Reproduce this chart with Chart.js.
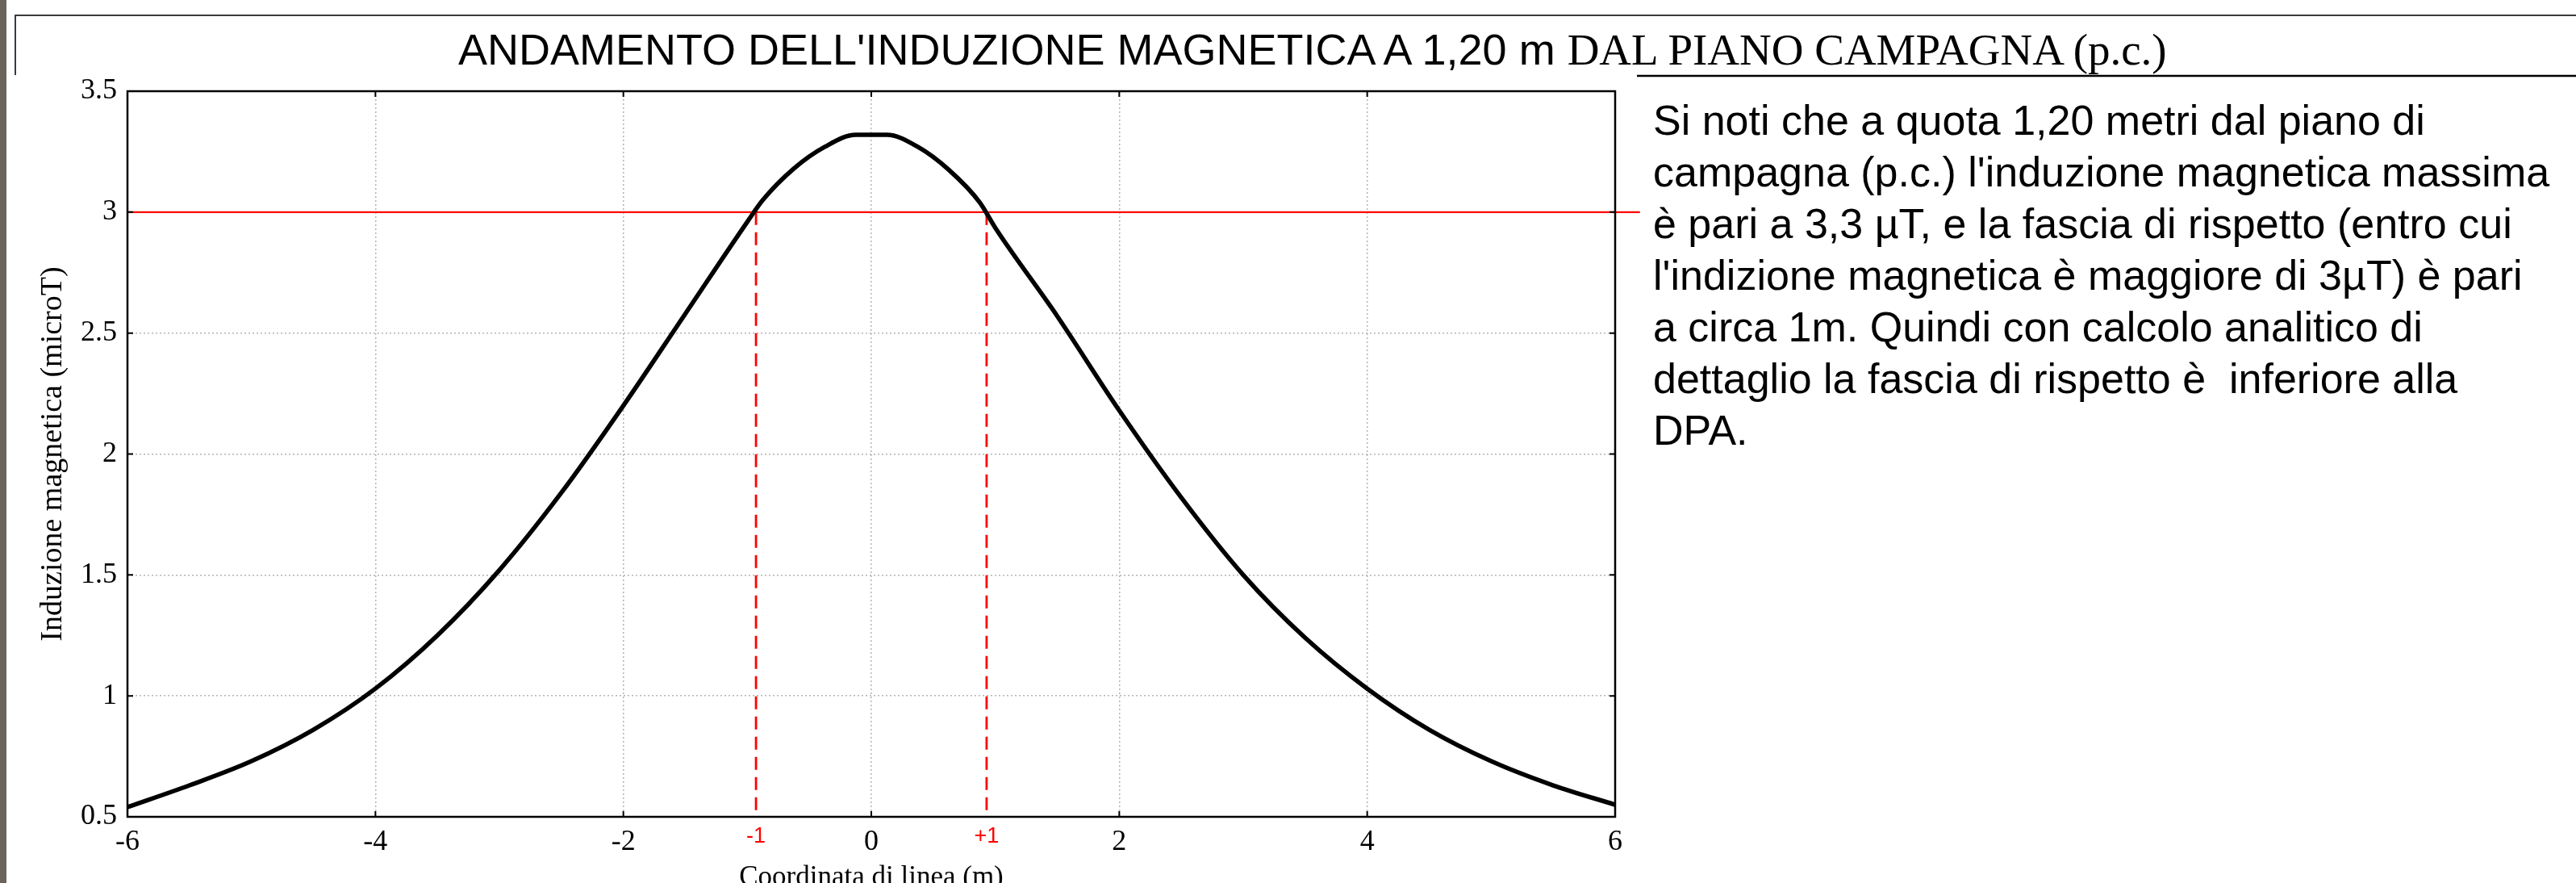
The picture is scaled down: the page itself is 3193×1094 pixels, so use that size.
<!DOCTYPE html>
<html>
<head>
<meta charset="utf-8">
<script src="https://cdn.jsdelivr.net/npm/chart.js@4.4.0/dist/chart.umd.min.js"></script>
<style>
  html, body { margin: 0; padding: 0; background: #fff; overflow: hidden; }
  #wrap { position: relative; width: 3193px; height: 1094px; }
  #chart { position: absolute; left: 0; top: 0; }
  #title { position: absolute; left: 568px; top: 34px; white-space: nowrap; color: #000;
           font: 54px/54px "Liberation Sans", Arial, sans-serif; }
  #title .serif { font-family: "Liberation Serif", "Times New Roman", serif; font-size: 55px; }
  #note { position: absolute; left: 2049px; top: 117px; white-space: nowrap; color: #000;
          font: 52px/64px "Liberation Sans", Arial, sans-serif; }
</style>
</head>
<body>
<div id="wrap">
  <canvas id="chart" width="3193" height="1094"></canvas>
  <div id="title">ANDAMENTO DELL'INDUZIONE MAGNETICA A 1,20 m <span class="serif">DAL PIANO CAMPAGNA (p.c.)</span></div>
  <div id="note">Si noti che a quota 1,20 metri dal piano di<br>campagna (p.c.) l'induzione magnetica massima<br>è pari a 3,3 µT, e la fascia di rispetto (entro cui<br>l'indizione magnetica è maggiore di 3µT) è pari<br>a circa 1m. Quindi con calcolo analitico di<br>dettaglio la fascia di rispetto è&nbsp; inferiore alla<br>DPA.</div>
</div>
<script>
'use strict';
// coordinata di linea (m) and induzione magnetica (microT)
var xCoord = [-6, -5.5, -5, -4.5, -4, -3.5, -3, -2.5, -2, -1.5, -1, -0.875, -0.625, -0.375, -0.125,
              0.125, 0.375, 0.625, 0.875, 1, 1.5, 2, 2.5, 3, 3.5, 4, 4.5, 5, 5.5, 6];
var induction = [0.54, 0.63, 0.73, 0.86, 1.03, 1.25, 1.52, 1.84, 2.20, 2.58, 2.96, 3.05, 3.18, 3.27, 3.32,
                 3.32, 3.27, 3.175, 3.04, 2.935, 2.57, 2.18, 1.82, 1.50, 1.24, 1.03, 0.86, 0.73, 0.63, 0.55];
var threshold = 3;          // limite 3 microT
var thresholdEnd = 6.2;     // la linea rossa sborda un po' oltre l'asse
var bandEdges = [-0.93, 0.93];
var bandLabels = ['-1', '+1'];
var xRange = [-6, 6], xStep = 2;
var yRange = [0.5, 3.5], yStep = 0.5;

var serif = '"Liberation Serif", "Times New Roman", serif';
var sans = '"Liberation Sans", Arial, sans-serif';

var decor = {
  id: 'decor',
  afterDraw: function(chart) {
    var ctx = chart.ctx, a = chart.chartArea, x = chart.scales.x, y = chart.scales.y;
    ctx.save();
    // bordo pagina
    ctx.fillStyle = '#6b645a';
    ctx.fillRect(0, 0, 8, chart.height);
    ctx.strokeStyle = '#3a3a3a';
    ctx.lineWidth = 2;
    ctx.beginPath();
    ctx.moveTo(19, 93); ctx.lineTo(19, 19); ctx.lineTo(chart.width, 19);
    ctx.stroke();
    ctx.strokeStyle = '#000';
    ctx.lineWidth = 2.5;
    ctx.beginPath();
    ctx.moveTo(2029, 94); ctx.lineTo(chart.width, 94);
    ctx.stroke();

    // cornice del grafico + tacche interne
    ctx.lineWidth = 2.5;
    ctx.strokeRect(a.left, a.top, a.right - a.left, a.bottom - a.top);
    ctx.lineWidth = 2;
    ctx.beginPath();
    x.ticks.forEach(function(t) {
      var px = x.getPixelForValue(t.value);
      ctx.moveTo(px, a.bottom); ctx.lineTo(px, a.bottom - 7);
      ctx.moveTo(px, a.top); ctx.lineTo(px, a.top + 7);
    });
    y.ticks.forEach(function(t) {
      var py = y.getPixelForValue(t.value);
      ctx.moveTo(a.left, py); ctx.lineTo(a.left + 7, py);
      ctx.moveTo(a.right, py); ctx.lineTo(a.right - 7, py);
    });
    ctx.stroke();

    // etichette rosse della fascia
    ctx.fillStyle = '#ff0000';
    ctx.font = '27px ' + sans;
    ctx.textAlign = 'center';
    ctx.textBaseline = 'middle';
    bandEdges.forEach(function(v, i) {
      ctx.fillText(bandLabels[i], x.getPixelForValue(v), a.bottom + 25);
    });

    // titoli assi
    ctx.fillStyle = '#000';
    ctx.font = '35px ' + serif;
    ctx.textBaseline = 'alphabetic';
    ctx.fillText('Coordinata di linea (m)', (a.left + a.right) / 2, a.bottom + 85);
    ctx.font = '38px ' + serif;
    ctx.translate(76, (a.top + a.bottom) / 2);
    ctx.rotate(-Math.PI / 2);
    ctx.fillText('Induzione magnetica (microT)', 0, 0);
    ctx.restore();
  }
};

var points = xCoord.map(function(v, i) { return {x: v, y: induction[i]}; });
var datasets = [{
  data: points,
  borderColor: '#000',
  borderWidth: 5.5,
  pointRadius: 0,
  showLine: true,
  cubicInterpolationMode: 'monotone',
  order: 0
}, {
  data: [{x: xRange[0], y: threshold}, {x: thresholdEnd, y: threshold}],
  borderColor: '#ff0000',
  borderWidth: 2.2,
  pointRadius: 0,
  showLine: true,
  clip: false,
  order: 1
}];
bandEdges.forEach(function(v) {
  datasets.push({
    data: [{x: v, y: threshold}, {x: v, y: yRange[0]}],
    borderColor: '#ff0000',
    borderWidth: 2.8,
    borderDash: [16, 9],
    pointRadius: 0,
    showLine: true,
    order: 1
  });
});

function plainNumber(v) { return String(v); }

new Chart(document.getElementById('chart'), {
  type: 'scatter',
  data: {datasets: datasets},
  options: {
    responsive: false,
    animation: false,
    layout: {padding: {left: 0, top: 113, right: 1191, bottom: 0}},
    plugins: {legend: {display: false}, tooltip: {enabled: false}},
    scales: {
      x: {
        type: 'linear', min: xRange[0], max: xRange[1],
        afterFit: function(s) { s.height = 82; },
        ticks: {stepSize: xStep, color: '#000', padding: 10, maxRotation: 0,
                callback: plainNumber, font: {family: serif, size: 36}},
        grid: {color: '#b4b4b4', lineWidth: 1.5, drawTicks: false},
        border: {display: false, dash: [2, 3]}
      },
      y: {
        type: 'linear', min: yRange[0], max: yRange[1],
        afterFit: function(s) { s.width = 158; },
        ticks: {stepSize: yStep, color: '#000', padding: 13,
                callback: plainNumber, font: {family: serif, size: 36}},
        grid: {color: '#b4b4b4', lineWidth: 1.5, drawTicks: false},
        border: {display: false, dash: [2, 3]}
      }
    }
  },
  plugins: [decor]
});
</script>
</body>
</html>
